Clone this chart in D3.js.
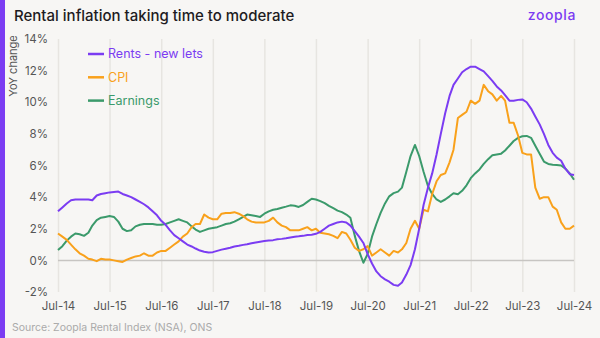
<!DOCTYPE html>
<html>
<head>
<meta charset="utf-8">
<script src="https://cdn.jsdelivr.net/npm/d3@7"></script>
<style>
  html, body { margin: 0; padding: 0; background: #f7f6f4; }
  #chart { width: 600px; height: 338px; }
  text { font-family: Inter, "Open Sans", sans-serif; }
</style>
</head>
<body>
<div id="chart"></div>
<script>
// monthly YoY % change, Jul-14 .. Jul-24
const startMonth = new Date(2014, 6, 1);

const rents = [
  3.1, 3.35, 3.6, 3.8, 3.85, 3.85, 3.85, 3.85, 3.8, 4.1, 4.2, 4.25,
  4.3, 4.33, 4.35, 4.2, 4.1, 4.0, 3.85, 3.7, 3.55, 3.35, 3.1, 2.85,
  2.5, 2.25, 1.9, 1.6, 1.4, 1.2, 1.0, 0.88, 0.75, 0.62, 0.55, 0.5,
  0.52, 0.6, 0.68, 0.74, 0.8, 0.88, 0.92, 0.98, 1.02, 1.08, 1.13, 1.18,
  1.22, 1.25, 1.28, 1.33, 1.36, 1.4, 1.45, 1.5, 1.52, 1.55, 1.6, 1.62,
  1.68, 1.8, 2.0, 2.2, 2.3, 2.4, 2.45, 2.4, 2.2, 1.85, 1.5, 1.1,
  0.4, -0.2, -0.7, -1.0, -1.2, -1.35, -1.55, -1.6, -1.4, -0.9, -0.3, 0.7,
  2.0, 3.5, 4.6, 5.5, 6.7, 8.0, 9.3, 10.4, 11.1, 11.5, 11.9, 12.1,
  12.25, 12.25, 12.1, 11.95, 11.65, 11.35, 11.0, 10.75, 10.45, 10.1, 10.1, 10.15,
  10.18, 10.0, 9.6, 9.1, 8.6, 8.0, 7.3, 6.8, 6.5, 6.3, 5.8, 5.45,
  5.4
];

const cpi = [
  1.7, 1.5, 1.3, 1.0, 0.7, 0.45, 0.3, 0.1, 0.05, -0.05, 0.1, 0.05,
  0.05, 0.0, -0.05, -0.1, 0.05, 0.15, 0.25, 0.3, 0.45, 0.3, 0.3, 0.5,
  0.6, 0.6, 0.8, 1.0, 1.2, 1.5, 1.7, 2.1, 2.3, 2.3, 2.9, 2.7,
  2.6, 2.6, 2.95, 3.0, 3.0, 3.05, 2.95, 2.8, 2.6, 2.45, 2.4, 2.4,
  2.4, 2.5, 2.7, 2.4, 2.2, 2.1, 1.9, 1.9, 1.9, 2.0, 2.1, 1.9,
  2.0, 1.75, 1.7, 1.65, 1.55, 1.4, 1.8, 1.7, 1.3, 0.8, 0.6, 0.7,
  0.9, 0.3, 0.5, 0.7, 0.5, 0.3, 0.6, 0.5, 0.7, 1.1, 2.0, 2.5,
  2.0, 3.2, 3.1, 4.2, 5.0, 5.4, 5.5, 6.2, 7.0, 9.0, 9.2, 9.4,
  10.1, 9.9, 10.1, 11.1, 10.7, 10.5, 10.1, 10.4, 10.1, 8.7, 8.7, 7.9,
  6.8, 6.7, 6.7, 4.6, 3.9, 4.0, 4.0, 3.4, 3.2, 2.4, 2.0, 2.0,
  2.2
];

const earnings = [
  0.65, 0.9, 1.25, 1.5, 1.7, 1.65, 1.55, 1.75, 2.2, 2.55, 2.7, 2.75,
  2.8, 2.75, 2.45, 2.0, 1.85, 1.9, 2.15, 2.25, 2.3, 2.3, 2.3, 2.25,
  2.25, 2.3, 2.4, 2.5, 2.6, 2.5, 2.4, 2.15, 1.95, 1.8, 1.9, 2.0,
  2.05, 2.1, 2.2, 2.3, 2.35, 2.45, 2.6, 2.75, 2.9, 2.85, 2.8, 2.75,
  2.95, 3.1, 3.2, 3.25, 3.33, 3.4, 3.48, 3.45, 3.38, 3.5, 3.7, 3.9,
  3.85, 3.75, 3.62, 3.45, 3.3, 3.15, 3.05, 2.9, 2.7, 1.55, 0.6, -0.15,
  0.4, 1.5, 2.3, 3.0, 3.6, 4.05, 4.25, 4.35, 4.6, 5.6, 6.6, 7.3,
  6.6, 5.6, 4.7, 4.2, 3.85, 3.7, 3.85, 4.05, 4.25, 4.18, 4.4, 4.75,
  5.2, 5.5, 5.75, 6.1, 6.4, 6.65, 6.7, 6.75, 6.95, 7.25, 7.55, 7.75,
  7.85, 7.87, 7.75, 7.25, 6.75, 6.25, 6.1, 6.05, 6.03, 6.0, 5.8, 5.5,
  5.1
];

const seriesNames = ["Rents - new lets", "CPI", "Earnings"];
const seriesColors = ["#7b3cf2", "#f9a11b", "#3b9a6b"];
const xTickLabels = ["Jul-14", "Jul-15", "Jul-16", "Jul-17", "Jul-18", "Jul-19",
                     "Jul-20", "Jul-21", "Jul-22", "Jul-23", "Jul-24"];
const yTicks = [-2, 0, 2, 4, 6, 8, 10, 12, 14];

const width = 600, height = 338;
const margin = { t: 39, r: 26, b: 46, l: 58 };
const w = width - margin.l - margin.r;
const h = height - margin.t - margin.b;

const months = rents.map((d, i) => d3.timeMonth.offset(startMonth, i));
const tickDates = xTickLabels.map((d, i) => d3.timeYear.offset(startMonth, i));

const svg = d3.select('#chart').append('svg')
  .attr('width', width)
  .attr('height', height);

svg.append('rect')
  .attr('width', width).attr('height', height)
  .attr('fill', '#f7f6f4');

// purple strip down the left edge
svg.append('rect')
  .attr('x', 0).attr('y', 0)
  .attr('width', 5).attr('height', height)
  .attr('fill', '#7b3cf2');

svg.append('text')
  .attr('x', 14).attr('y', 21)
  .attr('font-size', 15)
  .attr('font-weight', 500)
  .attr('fill', '#1d1b22')
  .text('Rental inflation taking time to moderate');

svg.append('text')
  .attr('x', 576).attr('y', 20)
  .attr('text-anchor', 'end')
  .attr('font-size', 14)
  .attr('font-weight', 500)
  .attr('letter-spacing', 0.6)
  .attr('fill', '#7b3cf2')
  .text('zoopla');

const plot = svg.append('g')
  .attr('transform', `translate(${margin.l},${margin.t})`);

const scaleX = d3.scaleTime()
  .domain([months[0], months[months.length - 1]])
  .range([0, w]);

const scaleY = d3.scaleLinear()
  .domain([-2, 14])
  .range([h, 0]);

// vertical gridlines + x labels
const axisX = d3.axisBottom(scaleX)
  .tickValues(tickDates)
  .tickFormat((d, i) => xTickLabels[i])
  .tickSize(h)
  .tickPadding(10);

plot.append('g')
  .attr('class', 'axis axis-x')
  .call(axisX)
  .call(g => g.select('.domain').remove())
  .call(g => g.selectAll('line').attr('stroke', '#e7e5e1').attr('stroke-width', 1.5))
  .call(g => g.selectAll('text')
    .attr('font-size', 11.5)
    .attr('fill', '#555')
    .attr('font-family', 'Inter, sans-serif'));

const axisY = d3.axisLeft(scaleY)
  .tickValues(yTicks)
  .tickFormat(d => d + '%')
  .tickSize(0)
  .tickPadding(10);

plot.append('g')
  .attr('class', 'axis axis-y')
  .call(axisY)
  .call(g => g.select('.domain').remove())
  .call(g => g.selectAll('text')
    .attr('font-size', 11.5)
    .attr('fill', '#555')
    .attr('font-family', 'Inter, sans-serif'));

// zero line
plot.append('line')
  .attr('x1', 0).attr('x2', w)
  .attr('y1', scaleY(0)).attr('y2', scaleY(0))
  .attr('stroke', '#c7c5c2')
  .attr('stroke-width', 1.5);

svg.append('text')
  .attr('transform', 'translate(17,66) rotate(-90)')
  .attr('text-anchor', 'middle')
  .attr('font-size', 11)
  .attr('fill', '#555')
  .text('YoY change');

const line = d3.line()
  .x((d, i) => scaleX(months[i]))
  .y(d => scaleY(d));

const allSeries = [rents, cpi, earnings];

// draw earnings and CPI under rents
[2, 1, 0].forEach(k => {
  plot.append('path')
    .datum(allSeries[k])
    .attr('fill', 'none')
    .attr('stroke', seriesColors[k])
    .attr('stroke-width', 2)
    .attr('stroke-linejoin', 'round')
    .attr('d', line);
});

const legend = svg.append('g')
  .attr('transform', 'translate(88,54)');

const legendItems = legend.selectAll('g')
  .data(seriesNames)
  .enter().append('g')
  .attr('transform', (d, i) => `translate(0,${i * 23.3})`);

legendItems.append('line')
  .attr('x1', 0).attr('x2', 16)
  .attr('stroke', (d, i) => seriesColors[i])
  .attr('stroke-width', 2.5);

legendItems.append('text')
  .attr('x', 20).attr('dy', '0.35em')
  .attr('font-size', 12.5)
  .attr('fill', (d, i) => seriesColors[i])
  .text(d => d);

svg.append('text')
  .attr('x', 12).attr('y', 331)
  .attr('font-size', 10.5)
  .attr('fill', '#aaa')
  .text('Source: Zoopla Rental Index (NSA), ONS');
</script>
</body>
</html>
